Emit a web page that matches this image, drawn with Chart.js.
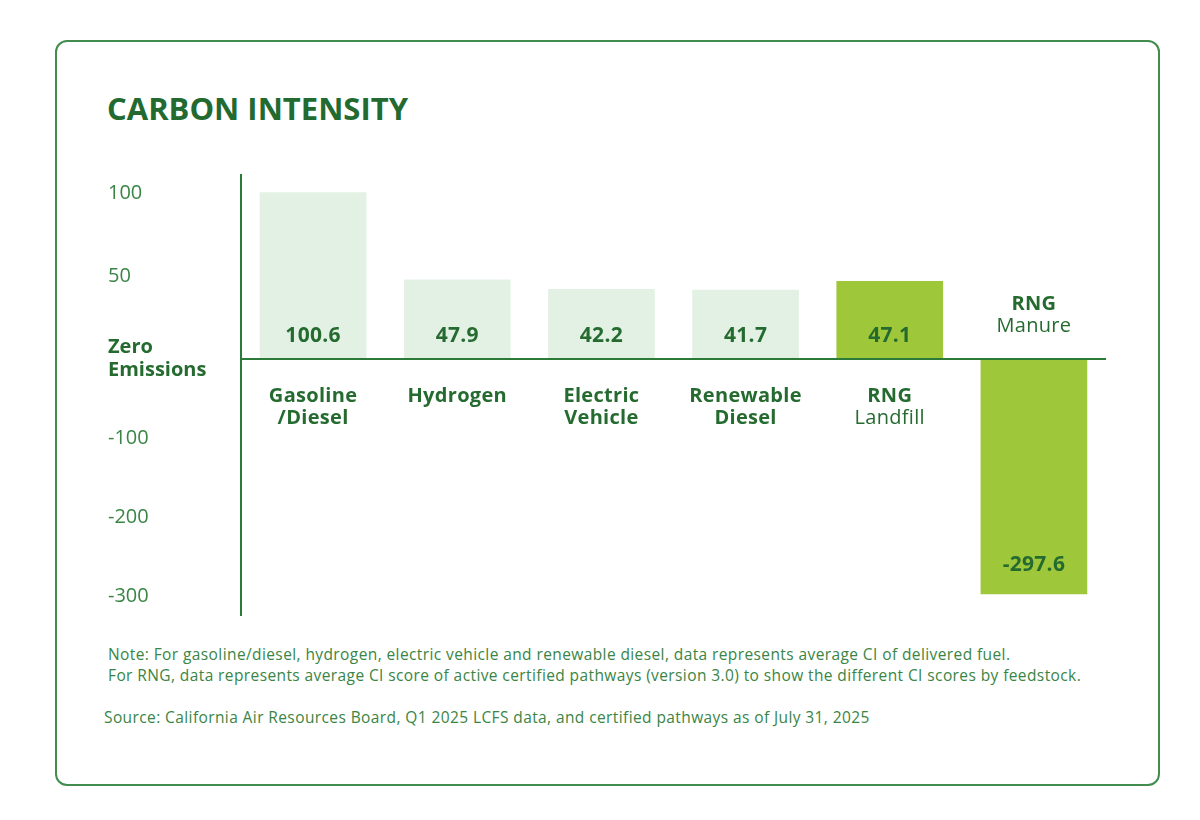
<!DOCTYPE html>
<html>
<head>
<meta charset="utf-8">
<title>Carbon Intensity</title>
<script src="https://cdn.jsdelivr.net/npm/chart.js@4.4.1/dist/chart.umd.min.js"></script>
<style>
  html, body { margin: 0; padding: 0; background: #fff; }
  body { width: 1200px; height: 820px; position: relative; overflow: hidden; font-family: "Open Sans", Lato, sans-serif; }
  .card { position: absolute; left: 55px; top: 40px; width: 1105px; height: 746px; box-sizing: border-box;
          border: 2px solid #428d4e; border-radius: 12px; }
  h1 { position: absolute; left: 107px; top: 93px; margin: 0; font-size: 31px; line-height: 1; font-weight: 700; color: #236a30; }
  #wrap { position: absolute; left: 0; top: 160px; width: 1200px; height: 470px; }
  .note { position: absolute; left: 108px; top: 644px; margin: 0; font-size: 15.5px; line-height: 21px; letter-spacing: 0.4px; color: #3a8545; }
  .source { position: absolute; left: 104px; top: 707px; margin: 0; font-size: 15.5px; line-height: 21px; letter-spacing: 0.4px; color: #3a8545; }
</style>
</head>
<body>
<div class="card"></div>
<h1>CARBON INTENSITY</h1>
<div id="wrap"><canvas id="ci_canvas"></canvas></div>
<p class="note">Note: For gasoline/diesel, hydrogen, electric vehicle and renewable diesel, data represents average CI of delivered fuel.<br>
For RNG, data represents average CI score of active certified pathways (version 3.0) to show the different CI scores by feedstock.</p>
<p class="source">Source: California Air Resources Board, Q1 2025 LCFS data, and certified pathways as of July 31, 2025</p>
<script>
const CATEGORIES = [['Gasoline', '/Diesel'], ['Hydrogen'], ['Electric', 'Vehicle'], ['Renewable', 'Diesel'], ['RNG'], ['RNG']];
const FEEDSTOCKS = ['', '', '', '', 'Landfill', 'Manure'];
const CI_VALUES = [100.6, 47.9, 42.2, 41.7, 47.1, -297.6];
const TICK_VALUES = [100, 50, 0, -100, -200, -300];
const TICK_LABELS = ['100', '50', ['Zero', 'Emissions'], '-100', '-200', '-300'];

const Y_MIN = -324;
const Y_MAX = 111;
const ZERO_SHARE = 0.418;   // part of the axis height above zero

const DARK = '#256b30';
const LINE = '#2b7a38';
const TICK = '#3a8545';
const PALE = '#e3f1e5';
const LIME = '#9fc73a';
const FONT = '"Open Sans"';

// the positive and negative halves use their own pixel per unit
class SplitScale extends Chart.LinearScale {
  zeroPixel() {
    return this.top + (this.bottom - this.top) * ZERO_SHARE;
  }
  getPixelForValue(value) {
    const zero = this.zeroPixel();
    if (value >= 0) return zero - (value / this.max) * (zero - this.top);
    return zero + (value / this.min) * (this.bottom - zero);
  }
  getValueForPixel(pixel) {
    const zero = this.zeroPixel();
    if (pixel <= zero) return (zero - pixel) / (zero - this.top) * this.max;
    return (pixel - zero) / (this.bottom - zero) * this.min;
  }
}
SplitScale.id = 'split';
SplitScale.defaults = Chart.LinearScale.defaults;
Chart.register(SplitScale);

const barLabels = {
  id: 'barLabels',
  afterDatasetsDraw(chart) {
    const ctx = chart.ctx;
    const y = chart.scales.y;
    const zero = y.getPixelForValue(0);
    const bars = chart.getDatasetMeta(0).data;
    ctx.save();
    ctx.textAlign = 'center';
    ctx.textBaseline = 'middle';
    ctx.fillStyle = DARK;
    ctx.letterSpacing = '0.3px';
    bars.forEach((bar, i) => {
      const v = CI_VALUES[i];
      ctx.font = 'bold 21px ' + FONT;
      ctx.fillText(v.toFixed(1), bar.x, v >= 0 ? zero - 23 : bar.y - 29);

      const lines = CATEGORIES[i].map(t => ({ t: t, w: 'bold' }));
      if (FEEDSTOCKS[i]) lines.push({ t: FEEDSTOCKS[i], w: 'normal' });
      lines.forEach((l, k) => {
        ctx.font = l.w + ' 20px ' + FONT;
        const ly = v >= 0 ? zero + 37 + 22 * k : zero - 33 - 22 * (lines.length - 1 - k);
        ctx.fillText(l.t, bar.x, ly);
      });
    });
    ctx.restore();
  }
};

const ctx = document.getElementById('ci_canvas');
new Chart(ctx, {
  type: 'bar',
  data: {
    labels: CATEGORIES.map((c, i) => c.concat(FEEDSTOCKS[i] ? [FEEDSTOCKS[i]] : []).join(' ')),
    datasets: [{
      label: 'Carbon intensity',
      data: CI_VALUES,
      backgroundColor: FEEDSTOCKS.map(f => f ? LIME : PALE),
      borderWidth: 0,
      barPercentage: 0.74,
      categoryPercentage: 1
    }]
  },
  options: {
    responsive: true,
    maintainAspectRatio: false,
    animation: false,
    layout: { padding: { left: 108, right: 94, top: 15, bottom: 15 } },
    plugins: {
      legend: { display: false },
      tooltip: { enabled: false }
    },
    scales: {
      x: { display: false },
      y: {
        type: 'split',
        min: Y_MIN,
        max: Y_MAX,
        z: 1,
        afterBuildTicks(scale) {
          scale.ticks = TICK_VALUES.map(v => ({ value: v }));
        },
        afterFit(scale) {
          scale.width = 133;
        },
        border: { display: true, color: LINE, width: 2 },
        grid: {
          drawTicks: false,
          lineWidth: 2,
          color: c => (c.tick && c.tick.value === 0 ? LINE : 'rgba(0,0,0,0)')
        },
        ticks: {
          crossAlign: 'far',
          padding: 0,
          color: c => (c.tick && c.tick.value === 0 ? DARK : TICK),
          font: c => ({
            family: FONT,
            size: 20,
            lineHeight: 1.15,
            weight: c.tick && c.tick.value === 0 ? 'bold' : 'normal'
          }),
          callback: value => TICK_LABELS[TICK_VALUES.indexOf(value)]
        }
      }
    }
  },
  plugins: [barLabels]
});
</script>
</body>
</html>
